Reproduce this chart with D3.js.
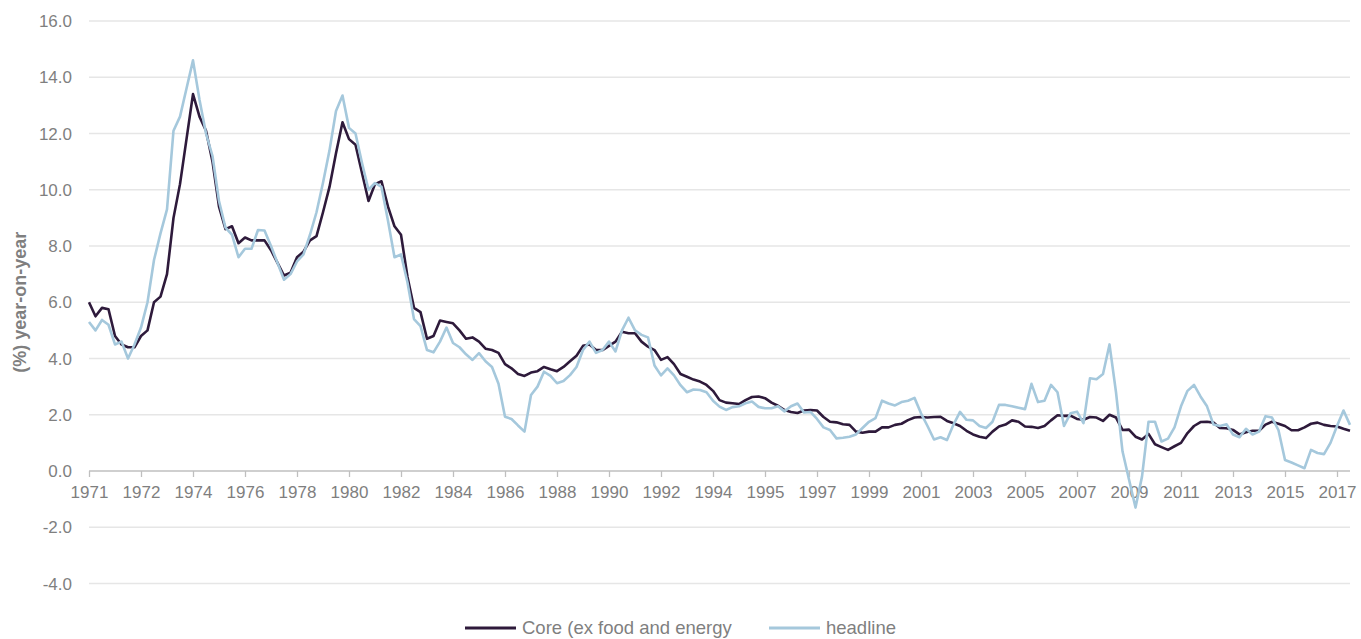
<!DOCTYPE html>
<html lang="en">
  <head>
    <meta charset="UTF-8" />
    <script src="https://d3js.org/d3.v7.min.js"></script>
    <style>
      body { margin: 0; background: #fff; }
      text { font-family: "Liberation Sans", Arial, sans-serif; fill: #7f7f7f; }
      .grid line { stroke: #e6e6e6; stroke-width: 1.3; }
    </style>
  </head>
  <body>
    <svg id="chart" width="1361" height="639"></svg>
    <script>
      // category labels shown every 8 points
      const tickLabels = ["1971", "1972", "1974", "1976", "1978", "1980", "1982", "1984",
        "1986", "1988", "1990", "1992", "1994", "1995", "1997", "1999", "2001", "2003",
        "2005", "2007", "2009", "2011", "2013", "2015", "2017"];
      const pointsPerLabel = 8;

      const core = [
        6.0, 5.5, 5.8, 5.75, 4.8, 4.5, 4.4, 4.4, 4.8, 5.0, 6.0, 6.2, 7.0, 9.0, 10.2, 11.8,
        13.4, 12.6, 12.1, 11.0, 9.4, 8.6, 8.7, 8.1, 8.3, 8.2, 8.2, 8.2, 7.85, 7.4, 6.95, 7.05,
        7.6, 7.8, 8.2, 8.35, 9.2, 10.1, 11.3, 12.4, 11.8, 11.6, 10.6, 9.6, 10.2, 10.3, 9.4, 8.7,
        8.4, 6.9, 5.8, 5.65, 4.7, 4.8, 5.35, 5.3, 5.25, 5.0, 4.7, 4.75, 4.6, 4.35, 4.3, 4.2,
        3.8, 3.65, 3.45, 3.38, 3.5, 3.55, 3.7, 3.62, 3.55, 3.7, 3.9, 4.1, 4.45, 4.5, 4.3, 4.3,
        4.45, 4.6, 4.95, 4.9, 4.9, 4.6, 4.42, 4.3, 3.95, 4.05, 3.8, 3.45, 3.35, 3.25, 3.18, 3.06,
        2.85, 2.52, 2.43, 2.41, 2.38, 2.52, 2.63, 2.65, 2.59, 2.43, 2.32, 2.17, 2.1, 2.06, 2.15, 2.17,
        2.15, 1.92, 1.75, 1.73, 1.66, 1.64, 1.4, 1.36, 1.4, 1.4, 1.55, 1.55, 1.64, 1.68, 1.81, 1.9,
        1.92, 1.9, 1.92, 1.93, 1.78, 1.7, 1.6, 1.43, 1.3, 1.22, 1.17, 1.4, 1.58, 1.65, 1.8, 1.75,
        1.58, 1.57, 1.53, 1.6, 1.8, 1.98, 1.96, 1.97, 1.85, 1.82, 1.92, 1.9, 1.78, 2.0, 1.9, 1.46,
        1.47, 1.22, 1.12, 1.32, 0.95, 0.85, 0.75, 0.88, 1.0, 1.35, 1.6, 1.74, 1.75, 1.72, 1.53, 1.52,
        1.46, 1.3, 1.38, 1.43, 1.43, 1.65, 1.75, 1.68, 1.6, 1.45, 1.45, 1.55, 1.68, 1.72, 1.64, 1.6,
        1.58, 1.5, 1.43
      ];

      const headline = [
        5.3, 5.0, 5.37, 5.2, 4.5, 4.6, 4.0, 4.5, 5.1, 6.0, 7.5, 8.45, 9.3, 12.1, 12.6, 13.6,
        14.6, 13.2, 12.0, 11.2, 9.6, 8.65, 8.4, 7.6, 7.9, 7.9, 8.57, 8.55, 8.0, 7.4, 6.8, 7.0,
        7.45, 7.7, 8.4, 9.2, 10.25, 11.4, 12.8, 13.35, 12.2, 12.0, 10.95, 10.0, 10.24, 10.1, 8.9, 7.6,
        7.7, 6.7, 5.4, 5.15, 4.3, 4.22, 4.6, 5.1, 4.55, 4.4, 4.15, 3.95, 4.19, 3.9, 3.7, 3.1,
        1.93, 1.85, 1.62, 1.4, 2.7, 3.0, 3.53, 3.38, 3.12, 3.2, 3.41, 3.7, 4.3, 4.6, 4.2, 4.3,
        4.6, 4.25, 5.0, 5.45, 5.0, 4.84, 4.75, 3.75, 3.4, 3.65, 3.4, 3.05, 2.8, 2.9, 2.88, 2.8,
        2.5, 2.29, 2.17, 2.27, 2.3, 2.41, 2.47, 2.28, 2.23, 2.23, 2.3, 2.12, 2.3, 2.4, 2.08, 2.1,
        1.85, 1.55, 1.46, 1.16, 1.18, 1.22, 1.3, 1.53, 1.75, 1.88, 2.5, 2.4, 2.33, 2.45, 2.5, 2.6,
        2.05, 1.6, 1.12, 1.2, 1.1, 1.65, 2.1, 1.82, 1.8, 1.6, 1.53, 1.75, 2.35, 2.35, 2.3, 2.25,
        2.2, 3.1, 2.45, 2.5, 3.06, 2.8, 1.6, 2.05, 2.11, 1.7, 3.3, 3.26, 3.45, 4.5, 2.8, 0.7,
        -0.3, -1.3, -0.2, 1.75, 1.75, 1.05, 1.15, 1.55, 2.3, 2.85, 3.06, 2.65, 2.3, 1.65, 1.6, 1.66,
        1.3, 1.2, 1.5, 1.3, 1.4, 1.95, 1.9, 1.45, 0.39, 0.3, 0.2, 0.1, 0.75, 0.64, 0.6, 1.0,
        1.6, 2.15, 1.64
      ];

      const yTicks = [16, 14, 12, 10, 8, 6, 4, 2, 0, -2, -4];
      const seriesNames = ["Core (ex food and energy", "headline"];
      const colors = ["#2e1a3b", "#a5c8dc"];

      const svg = d3.select("#chart");
      const left = 89, right = 1350;

      const x = d3.scaleLinear().domain([0, core.length - 1]).range([left, right]);
      const y = d3.scaleLinear().domain([-4, 16]).range([583.5, 21]);

      // horizontal gridlines
      svg.append("g")
        .attr("class", "grid")
        .selectAll("line")
        .data(yTicks.filter(d => d !== 0))
        .join("line")
        .attr("x1", left)
        .attr("x2", right)
        .attr("y1", d => y(d))
        .attr("y2", d => y(d));

      // y labels (plain hyphen for negatives, like the original)
      svg.append("g")
        .selectAll("text")
        .data(yTicks)
        .join("text")
        .attr("x", 72)
        .attr("y", d => y(d))
        .attr("dy", "0.36em")
        .attr("text-anchor", "end")
        .style("font-size", "17px")
        .text(d => d.toFixed(1));

      // y title
      svg.append("text")
        .attr("transform", "translate(26," + y(6) + ") rotate(-90)")
        .attr("text-anchor", "middle")
        .style("font-size", "18px")
        .style("font-weight", "bold")
        .text("(%) year-on-year");

      // zero axis with category ticks
      const tickIdx = tickLabels.map((d, i) => i * pointsPerLabel);
      const xAxis = d3.axisBottom(x)
        .tickValues(tickIdx)
        .tickFormat((d, i) => tickLabels[i])
        .tickSize(6)
        .tickSizeOuter(0);
      const gx = svg.append("g")
        .attr("transform", "translate(0," + y(0) + ")")
        .call(xAxis);
      gx.select(".domain").attr("stroke", "#bfbfbf").attr("stroke-width", 1.5)
        .attr("d", "M" + left + ",0H" + right);
      gx.selectAll(".tick line").attr("stroke", "#bfbfbf").attr("stroke-width", 1.3);
      gx.selectAll(".tick text")
        .attr("y", 15)
        .style("font-size", "17px")
        .style("font-family", "Liberation Sans, Arial, sans-serif")
        .attr("fill", "#7f7f7f");

      // lines
      const line = d3.line()
        .x((d, i) => x(i))
        .y(d => y(d));

      [core, headline].forEach((s, k) => {
        svg.append("path")
          .datum(s)
          .attr("fill", "none")
          .attr("stroke", colors[k])
          .attr("stroke-width", 2.6)
          .attr("stroke-linejoin", "round")
          .attr("d", line);
      });

      // legend
      const legendX = [465, 769];
      seriesNames.forEach((name, k) => {
        svg.append("line")
          .attr("x1", legendX[k])
          .attr("x2", legendX[k] + 51)
          .attr("y1", 628)
          .attr("y2", 628)
          .attr("stroke", colors[k])
          .attr("stroke-width", 3);
        svg.append("text")
          .attr("x", legendX[k] + 57)
          .attr("y", 634)
          .style("font-size", "18.5px")
          .text(name);
      });
    </script>
  </body>
</html>
